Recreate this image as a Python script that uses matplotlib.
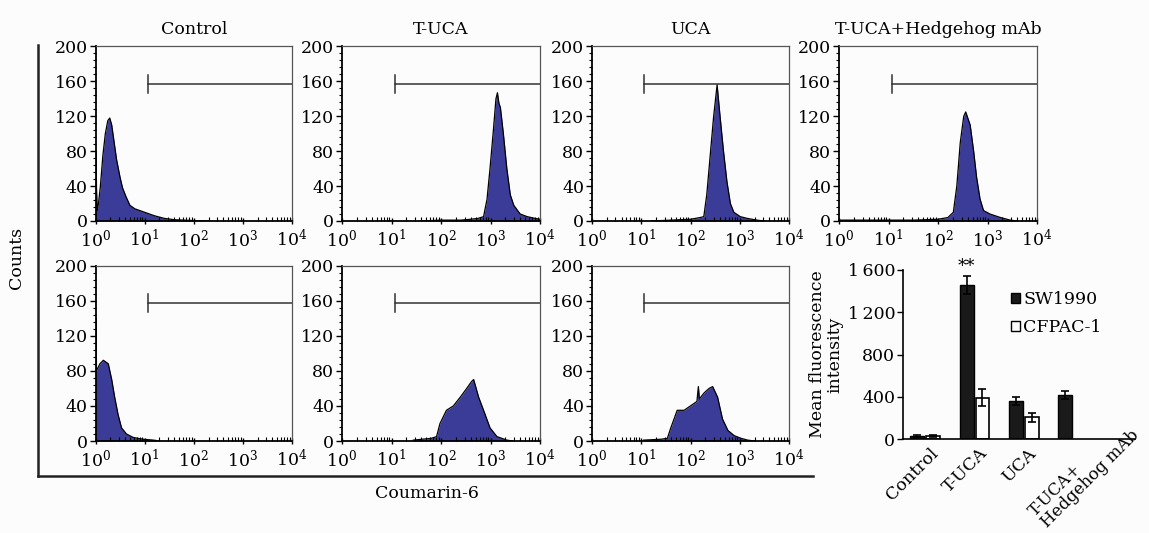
import numpy as np
import matplotlib
matplotlib.use("Agg")
import matplotlib.pyplot as plt
from matplotlib.lines import Line2D
from matplotlib.patches import Patch
from matplotlib.transforms import offset_copy
from matplotlib.ticker import LogLocator, LogFormatterMathtext, MultipleLocator, FixedLocator, NullFormatter

plt.rcParams['font.family'] = ['DejaVu Serif', 'Liberation Serif']
plt.rcParams['mathtext.default'] = 'regular'

# ---------------- data ----------------
panel_titles = ["Control", "T-UCA", "UCA", "T-UCA+Hedgehog mAb"]

# histogram traces: log10(fluorescence) positions and counts
top_control_x = [0.0, 0.012, 0.02, 0.035, 0.06, 0.1, 0.15, 0.2, 0.25, 0.29, 0.33, 0.38, 0.43, 0.5, 0.55, 0.62, 0.7, 0.8, 0.9, 1.0, 1.2, 1.4, 1.6, 1.8, 2.0, 2.3]
top_control_y = [80, 80, 38, 12, 20, 40, 75, 100, 115, 118, 110, 90, 70, 50, 38, 28, 18, 14, 12, 10, 6, 3, 1.5, 1, 0.5, 0]

top_tuca_x = [1.6, 2.0, 2.4, 2.6, 2.75, 2.86, 2.93, 2.99, 3.06, 3.11, 3.14, 3.17, 3.2, 3.26, 3.33, 3.4, 3.47, 3.6, 3.74, 3.9, 4.0]
top_tuca_y = [0, 1, 1, 2, 3, 5, 25, 60, 105, 140, 147, 135, 130, 100, 60, 30, 18, 8, 5, 3, 2]

top_uca_x = [1.2, 1.6, 2.0, 2.2, 2.27, 2.33, 2.4, 2.47, 2.54, 2.6, 2.67, 2.74, 2.81, 2.88, 3.01, 3.15, 3.35, 3.5]
top_uca_y = [0, 1, 2, 4, 5, 30, 75, 120, 156, 120, 80, 45, 20, 10, 5, 3, 1, 0]

top_hh_x = [0.0, 1.5, 2.0, 2.2, 2.31, 2.38, 2.45, 2.52, 2.56, 2.65, 2.72, 2.78, 2.85, 2.92, 3.05, 3.26, 3.46, 3.6]
top_hh_y = [1, 1, 2, 4, 10, 40, 90, 120, 125, 110, 80, 50, 25, 12, 8, 4, 1, 0]

bot_control_x = [0.0, 0.012, 0.02, 0.09, 0.16, 0.26, 0.33, 0.39, 0.46, 0.53, 0.63, 0.77, 0.97, 1.18, 1.3]
bot_control_y = [140, 140, 80, 88, 92, 88, 70, 50, 30, 15, 8, 4, 2, 1, 0]

bot_tuca_x = [1.44, 1.8, 1.91, 1.98, 2.11, 2.25, 2.39, 2.52, 2.62, 2.66, 2.76, 2.86, 2.99, 3.13, 3.33, 3.45]
bot_tuca_y = [1, 3, 5, 20, 35, 40, 50, 60, 68, 70, 50, 35, 15, 5, 1, 0]

bot_uca_x = [1.05, 1.4, 1.53, 1.6, 1.73, 1.87, 2.0, 2.13, 2.16, 2.18, 2.28, 2.38, 2.45, 2.55, 2.65, 2.76, 2.89, 3.03, 3.16, 3.3]
bot_uca_y = [1, 2, 3, 15, 35, 35, 40, 45, 62, 48, 55, 60, 62, 50, 25, 12, 6, 3, 1, 0]

gate_start = 11.5
gate_level = 157

# bar chart
bar_groups = ["Control", "T-UCA", "UCA", "T-UCA+\nHedgehog mAb"]
sw1990 = [25, 1460, 360, 415]
sw1990_err = [10, 85, 40, 35]
cfpac = [25, 390, 205, None]
cfpac_err = [10, 80, 40, None]
bar_yticks = [0, 400, 800, 1200, 1600]
bar_yticklabels = ["0", "400", "800", "1\u2009200", "1\u2009600"]

# ---------------- layout ----------------
W, H = 1149, 533
fig = plt.figure(figsize=(W / 100, H / 100), dpi=100, facecolor='#fcfcfc')


def rect(l, t, r, b):
    return [l / W, 1 - b / H, (r - l) / W, (b - t) / H]


cols = [(95.5, 292), (342, 540), (592, 789), (839, 1037)]
rows = [(46.5, 221), (265.5, 441)]

FILL = '#3b3b98'
FS = 12.5


def hist_panel(pos, xs, ys, title=None):
    ax = fig.add_axes(pos)
    ax.set_facecolor('#fcfcfc')
    xv = 10 ** np.array(xs)
    ax.fill_between(xv, ys, 0, color=FILL, lw=0)
    ax.plot(xv, ys, color='black', lw=0.9, zorder=3)
    ax.set_xscale('log')
    ax.set_xlim(1, 1e4)
    ax.set_ylim(0, 200)
    ax.xaxis.set_major_locator(LogLocator(base=10, numticks=10))
    ax.xaxis.set_major_formatter(LogFormatterMathtext())
    ax.xaxis.set_minor_locator(LogLocator(base=10, subs=np.arange(2, 10), numticks=10))
    ax.xaxis.set_minor_formatter(NullFormatter())
    ax.yaxis.set_major_locator(FixedLocator([0, 40, 80, 120, 160, 200]))
    ax.yaxis.set_minor_locator(MultipleLocator(8))
    ax.tick_params(axis='x', which='major', direction='inout', length=5, width=1, labelsize=FS, pad=3)
    ax.tick_params(axis='x', which='minor', direction='in', length=3, width=0.8)
    ax.tick_params(axis='y', which='major', direction='out', length=4, width=1, labelsize=FS, pad=1.5)
    ax.tick_params(axis='y', which='minor', direction='out', length=2.5, width=0.8)
    for s in ['top', 'right']:
        ax.spines[s].set_color('#555555')
        ax.spines[s].set_linewidth(0.9)
    for s in ['left', 'bottom']:
        ax.spines[s].set_linewidth(1.3)
    # gate marker
    ax.plot([gate_start, 1e4], [gate_level, gate_level], color='#333333', lw=1.1)
    ax.plot([gate_start, gate_start], [gate_level - 10, gate_level + 10], color='#333333', lw=1.1)
    if title:
        ax.set_title(title, fontsize=FS, pad=9)
    return ax


top_data = [(top_control_x, top_control_y), (top_tuca_x, top_tuca_y), (top_uca_x, top_uca_y), (top_hh_x, top_hh_y)]
bot_data = [(bot_control_x, bot_control_y), (bot_tuca_x, bot_tuca_y), (bot_uca_x, bot_uca_y)]

for i, (xs, ys) in enumerate(top_data):
    l, r = cols[i]
    t, b = rows[0]
    hist_panel(rect(l, t, r, b), xs, ys, panel_titles[i])
for i, (xs, ys) in enumerate(bot_data):
    l, r = cols[i]
    t, b = rows[1]
    hist_panel(rect(l, t, r, b), xs, ys)

# outer bracket lines
fig.add_artist(Line2D([38 / W, 38 / W], [1 - 45 / H, 1 - 476 / H], color='#222222', lw=1.8))
fig.add_artist(Line2D([38 / W, 813 / W], [1 - 476 / H, 1 - 476 / H], color='#222222', lw=1.8))
fig.text(16 / W, 1 - 258 / H, "Counts", rotation=90, ha='center', va='center', fontsize=FS)
fig.text(427 / W, 1 - 493 / H, "Coumarin-6", ha='center', va='center', fontsize=FS)

# ---------------- bar chart ----------------
axb = fig.add_axes(rect(903, 270, 1135, 439))
axb.set_facecolor('none')
xg = np.arange(len(bar_groups))
bw = 0.28
off = 0.16
ekw = dict(ecolor='black', capsize=3, elinewidth=1.2, capthick=1.2)
axb.bar(xg - off, sw1990, width=bw, color='#1a1a1a', edgecolor='black', lw=1,
        yerr=sw1990_err, error_kw=ekw, label='SW1990')
cx = [x + off for x, v in zip(xg, cfpac) if v is not None]
cv = [v for v in cfpac if v is not None]
ce = [e for e in cfpac_err if e is not None]
axb.bar(cx, cv, width=bw, color='white', edgecolor='black', lw=1.2,
        yerr=ce, error_kw=ekw, label='CFPAC-1')
axb.text(xg[1] - off, 1555, "**", ha='center', va='bottom', fontsize=FS)
axb.set_ylim(0, 1600)
axb.set_xlim(-0.45, 4.25)
axb.set_yticks(bar_yticks)
axb.set_yticklabels(bar_yticklabels)
axb.set_xticks(xg)
axb.set_xticklabels([])
axb.tick_params(axis='x', length=0)
axb.tick_params(axis='y', direction='out', length=4, width=1, labelsize=FS, pad=1.5)
for s in ['top', 'right']:
    axb.spines[s].set_visible(False)
axb.spines['left'].set_linewidth(1.2)
axb.spines['bottom'].set_linewidth(1.2)
axb.set_ylabel("Mean fluorescence\nintensity", fontsize=FS, labelpad=3, linespacing=1.05)

# rotated category labels, anchored under each group
label_offsets = [(5, -6), (4, -6), (4, -6), (45, 24)]
label_sizes = [FS, FS, FS, 12]
for x, lab, (dx, dy), fs in zip(xg, bar_groups, label_offsets, label_sizes):
    tr = offset_copy(axb.transData, fig=fig, x=dx, y=dy, units='dots')
    axb.text(x, 0, lab, transform=tr, rotation=45, ha='right', va='top',
             rotation_mode='anchor', multialignment='left', fontsize=fs,
             linespacing=1.0, clip_on=False)

handles = [Patch(facecolor='#1a1a1a', edgecolor='black', label='SW1990'),
           Patch(facecolor='white', edgecolor='black', label='CFPAC-1')]
axb.legend(handles=handles, loc='upper left', bbox_to_anchor=(0.465, 0.875), frameon=False,
           borderaxespad=0, borderpad=0,
           fontsize=FS, handlelength=0.5, handleheight=0.5, handletextpad=0.2, labelspacing=0.65)

fig.savefig("out.png", dpi=100, facecolor=fig.get_facecolor())
